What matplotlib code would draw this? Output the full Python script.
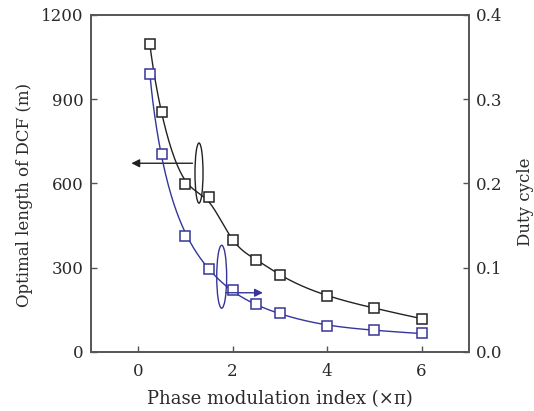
import numpy as np
import matplotlib
matplotlib.use('Agg')
import matplotlib.pyplot as plt
from matplotlib.patches import Ellipse

# data
index = [0.25, 0.5, 1, 1.5, 2, 2.5, 3, 4, 5, 6]
dcf_length = [1095, 856, 597, 551, 398, 326, 274, 201, 158, 118]
duty_cycle = [0.330, 0.235, 0.138, 0.099, 0.073, 0.057, 0.046, 0.031, 0.026, 0.022]

BLACK = '#222222'
BLUE = '#35359a'
TEXT = '#2a2a2a'


def spline(x, y, xs):
    """Natural cubic spline through the points."""
    x = np.asarray(x, float)
    y = np.asarray(y, float)
    n = len(x)
    h = np.diff(x)
    A = np.zeros((n, n))
    b = np.zeros(n)
    A[0, 0] = A[-1, -1] = 1
    for k in range(1, n - 1):
        A[k, k - 1] = h[k - 1]
        A[k, k] = 2 * (h[k - 1] + h[k])
        A[k, k + 1] = h[k]
        b[k] = 6 * ((y[k + 1] - y[k]) / h[k] - (y[k] - y[k - 1]) / h[k - 1])
    M = np.linalg.solve(A, b)
    i = np.clip(np.searchsorted(x, xs) - 1, 0, n - 2)
    t0 = x[i + 1] - xs
    t1 = xs - x[i]
    hi = h[i]
    return (M[i] * t0**3 / (6 * hi) + M[i + 1] * t1**3 / (6 * hi)
            + (y[i] / hi - M[i] * hi / 6) * t0 + (y[i + 1] / hi - M[i + 1] * hi / 6) * t1)


def smooth_line(x, y, xs, w=0.65):
    """Line drawn through the markers: spline eased toward a log-log fit."""
    p = np.polyfit(np.log(x), np.log(y), 4)
    fit = np.exp(np.polyval(p, np.log(xs)))
    return w * spline(x, y, xs) + (1 - w) * fit


plt.rcParams['font.family'] = ['DejaVu Serif']

fig = plt.figure(figsize=(5.34, 4.11), dpi=100)
ax = fig.add_axes([0.170, 0.1436, 0.708, 0.82])
ax2 = ax.twinx()

xs = np.linspace(index[0], index[-1], 400)
ax.plot(xs, smooth_line(index, dcf_length, xs), color=BLACK, lw=1.0)
ax.plot(index, dcf_length, 's', mfc='white', mec=BLACK, ms=6.5, mew=1.1)
ax2.plot(xs, smooth_line(index, duty_cycle, xs, w=0.3), color=BLUE, lw=1.0)
ax2.plot(index, duty_cycle, 's', mfc='white', mec=BLUE, ms=6.5, mew=1.1)

ax.set_xlim(-1, 7)
ax.set_ylim(0, 1200)
ax2.set_ylim(0, 0.4)
ax.set_xticks([0, 2, 4, 6])
ax.set_yticks([0, 300, 600, 900, 1200])
ax2.set_yticks([0.0, 0.1, 0.2, 0.3, 0.4])
ax2.set_yticklabels(['0.0', '0.1', '0.2', '0.3', '0.4'])

for a in (ax, ax2):
    for s in a.spines.values():
        s.set_color('#555555')
        s.set_linewidth(1.2)
    a.tick_params(direction='in', length=4, width=1, color='#555555',
                  labelcolor=TEXT, labelsize=12, pad=5)
ax.tick_params(axis='y', right=False)
ax.tick_params(axis='x', top=False, pad=8)

ax.set_xlabel('Phase modulation index (×π)', fontsize=13, color=TEXT)
ax.xaxis.set_label_coords(0.5, -0.113)
ax.set_ylabel('Optimal length of DCF (m)', fontsize=12, color=TEXT)
ax.yaxis.set_label_coords(-0.153, 0.466)
ax2.set_ylabel('Duty cycle', fontsize=12, color=TEXT)
ax2.yaxis.set_label_coords(1.127, 0.445)

# ellipses and arrows pointing to each series' axis
ax.add_patch(Ellipse((1.29, 637), 0.17, 214, fill=False, ec=BLACK, lw=1.0))
ax.annotate('', xy=(-0.2, 672), xytext=(1.21, 672),
            arrowprops=dict(arrowstyle='-|>', color=BLACK, lw=1.0, mutation_scale=12))
ax2.add_patch(Ellipse((1.77, 0.0893), 0.21, 0.0747, fill=False, ec=BLUE, lw=1.0))
ax2.annotate('', xy=(2.7, 0.0703), xytext=(1.8, 0.0703),
             arrowprops=dict(arrowstyle='-|>', color=BLUE, lw=1.0, mutation_scale=12))

fig.savefig('out.png', dpi=100)
